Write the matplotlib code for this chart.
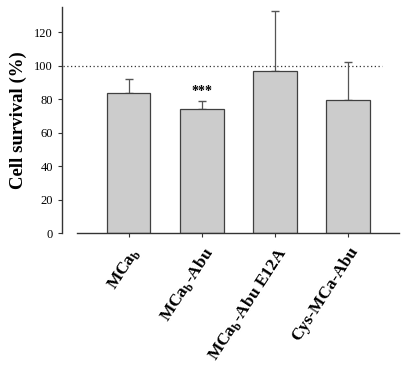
import numpy as np
import matplotlib
matplotlib.use('Agg')
import matplotlib.pyplot as plt

plt.rcParams['font.family'] = ['Liberation Serif', 'DejaVu Serif']
plt.rcParams['mathtext.fontset'] = 'custom'
plt.rcParams['mathtext.rm'] = 'Liberation Serif:bold'
plt.rcParams['mathtext.bf'] = 'Liberation Serif:bold'

labels = ["MCa$_{\\mathbf{b}}$", "MCa$_{\\mathbf{b}}$-Abu",
          "MCa$_{\\mathbf{b}}$-Abu E12A", "Cys-MCa-Abu"]
survival = [83.6, 74.1, 96.8, 79.5]
sem = [8.8, 5.1, 35.7, 22.7]
stars = ["", "***", "", ""]
reference = 100

fig = plt.figure(figsize=(4.05, 3.73), dpi=100)
ax = fig.add_axes([62/405, 1-233/373, (399-62)/405, (233-7.3)/373])

x = np.arange(len(labels))
ax.bar(x, survival, width=0.6, color='#cccccc', edgecolor='#404040', linewidth=0.9, zorder=2)
ax.errorbar(x, survival, yerr=[[0]*len(sem), sem], fmt='none', ecolor='#555555',
            elinewidth=0.9, capsize=3, capthick=1.0, zorder=1)
ax.plot([-0.9, 3.47], [reference, reference], linestyle=(0, (1, 2)), color='#333333', linewidth=0.9, zorder=0)

for xi, v, e, s in zip(x, survival, sem, stars):
    if s:
        ax.text(xi, v + e + 1.5, s, ha='center', va='bottom', fontsize=10, fontweight='bold')

ax.set_xlim(-0.91, 3.70)
ax.set_ylim(0, 135)
ax.spines['top'].set_visible(False)
ax.spines['right'].set_visible(False)
ax.spines['bottom'].set_bounds(-0.71, 3.70)
ax.spines['left'].set_bounds(0, 135)
for sp in ['bottom', 'left']:
    ax.spines[sp].set_color('#333333')
    ax.spines[sp].set_linewidth(1.0)

ax.set_yticks([0, 20, 40, 60, 80, 100, 120])
ax.tick_params(axis='y', labelsize=9, length=3, color='#333333')
ax.set_xticks(x)
ax.set_xticklabels(labels, rotation=57, ha='right', rotation_mode='anchor',
                   fontsize=12.5, fontweight='bold')
ax.tick_params(axis='x', length=3, color='#333333', pad=5)
ax.set_ylabel("Cell survival (%)", fontsize=13.5, fontweight='bold', labelpad=5)

fig.savefig("out.png", dpi=100)
